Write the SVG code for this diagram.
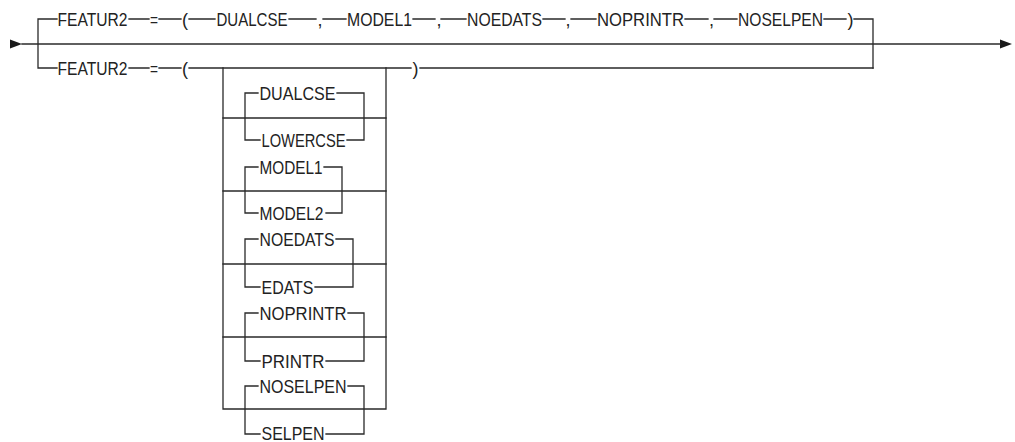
<svg xmlns="http://www.w3.org/2000/svg" width="1015" height="442" viewBox="0 0 1015 442">
<style>
.l{stroke:#2a2a2a;stroke-width:1.3;fill:none;stroke-linecap:square}
.t{font-family:"Liberation Sans",Arial,sans-serif;font-size:18px;fill:#222}
.a{fill:#1a1a1a}
</style>
<rect width="1015" height="442" fill="#fff"/>
<g id="connectors">
<polygon class="a" points="10,39.5 22,44 10,48.5"/>
<polygon class="a" points="1000,39.5 1012,44 1000,48.5"/>
<path class="l" d="M22,44 H1000"/>
<path class="l" d="M57,19 H38 V68 H57"/>
<path class="l" d="M129,19 H149 M159,19 H181 M189,19 H215 M289,19 H316 M323,19 H346 M413,19 H435 M441,19 H466 M543,19 H565 M571,19 H596 M685,19 H708 M714,19 H737 M824,19 H846 M854,19 H873 V68"/>
<path class="l" d="M129,68 H149 M159,68 H181 M189,68 H411 M420,68 H873"/>
<path class="l" d="M223,68 V409 H386 V68"/>
<path class="l" d="M223,118 H386 M223,191 H386 M223,264 H386 M223,337 H386"/>
<path class="l" d="M258,93 H245 V140 H260 M337,93 H364 V140 H347"/>
<path class="l" d="M258,167 H245 V213 H258 M324,167 H342 V213 H326"/>
<path class="l" d="M258,239 H245 V287 H260 M336,239 H353 V287 H315"/>
<path class="l" d="M258,313 H245 V361 H260 M348,313 H364 V361 H326"/>
<path class="l" d="M258,386 H245 V434 H260 M348,386 H364 V434 H326"/>
</g>
<g id="top-branch">
<text class="t" x="57.5" y="25.5" textLength="70" lengthAdjust="spacingAndGlyphs">FEATUR2</text>
<text class="t" x="150" y="25.5" textLength="8" lengthAdjust="spacingAndGlyphs">=</text>
<text class="t" x="182" y="25.5">(</text>
<text class="t" x="216.5" y="25.5" textLength="71" lengthAdjust="spacingAndGlyphs">DUALCSE</text>
<text class="t" x="317.5" y="25.5">,</text>
<text class="t" x="347" y="25.5" textLength="65" lengthAdjust="spacingAndGlyphs">MODEL1</text>
<text class="t" x="436.5" y="25.5">,</text>
<text class="t" x="467" y="25.5" textLength="75" lengthAdjust="spacingAndGlyphs">NOEDATS</text>
<text class="t" x="565.5" y="25.5">,</text>
<text class="t" x="597" y="25.5" textLength="87" lengthAdjust="spacingAndGlyphs">NOPRINTR</text>
<text class="t" x="709" y="25.5">,</text>
<text class="t" x="738" y="25.5" textLength="85" lengthAdjust="spacingAndGlyphs">NOSELPEN</text>
<text class="t" x="847.5" y="25.5">)</text>
</g>
<g id="bottom-branch">
<text class="t" x="57.5" y="74.5" textLength="70" lengthAdjust="spacingAndGlyphs">FEATUR2</text>
<text class="t" x="150" y="74.5" textLength="8" lengthAdjust="spacingAndGlyphs">=</text>
<text class="t" x="182" y="74.5">(</text>
<text class="t" x="412.5" y="74.5">)</text>
</g>
<g id="case-choice">
<text class="t" x="259.5" y="99.5" textLength="76" lengthAdjust="spacingAndGlyphs">DUALCSE</text>
<text class="t" x="261.5" y="146.5" textLength="84" lengthAdjust="spacingAndGlyphs">LOWERCSE</text>
</g>
<g id="model-choice">
<text class="t" x="259.5" y="173.5" textLength="63" lengthAdjust="spacingAndGlyphs">MODEL1</text>
<text class="t" x="259.5" y="219.5" textLength="64" lengthAdjust="spacingAndGlyphs">MODEL2</text>
</g>
<g id="edats-choice">
<text class="t" x="259.5" y="245.5" textLength="75" lengthAdjust="spacingAndGlyphs">NOEDATS</text>
<text class="t" x="261.5" y="293.5" textLength="52" lengthAdjust="spacingAndGlyphs">EDATS</text>
</g>
<g id="printr-choice">
<text class="t" x="259.5" y="319.5" textLength="87" lengthAdjust="spacingAndGlyphs">NOPRINTR</text>
<text class="t" x="261.5" y="367.5" textLength="63" lengthAdjust="spacingAndGlyphs">PRINTR</text>
</g>
<g id="selpen-choice">
<text class="t" x="259.5" y="392.5" textLength="87" lengthAdjust="spacingAndGlyphs">NOSELPEN</text>
<text class="t" x="261.5" y="440" textLength="63" lengthAdjust="spacingAndGlyphs">SELPEN</text>
</g>
</svg>
